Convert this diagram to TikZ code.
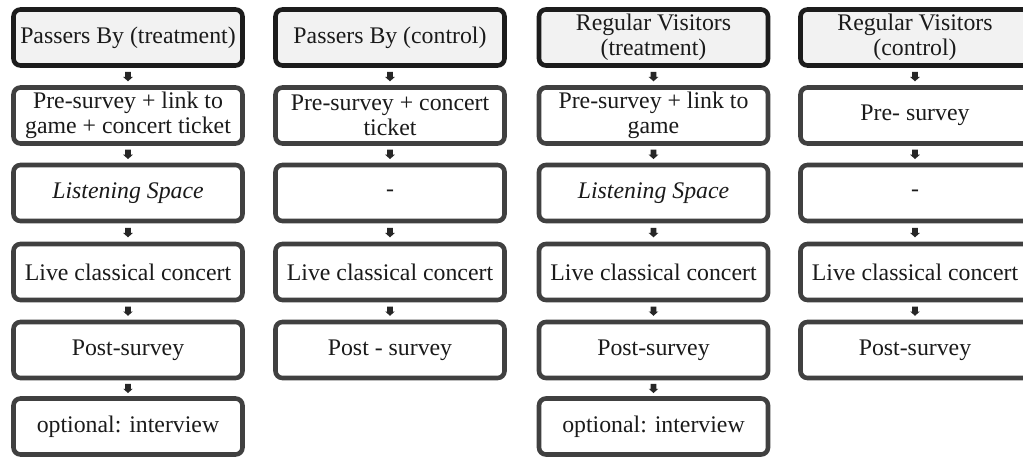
\documentclass[tikz,border=0pt]{standalone}
\usepackage{fontspec}
\setmainfont{Liberation Serif}

\definecolor{boxgray}{HTML}{404040}
\definecolor{headline}{HTML}{1C1C1C}
\definecolor{headfill}{HTML}{F2F2F2}
\definecolor{inkcol}{HTML}{1A1A1A}
\definecolor{arrowcol}{HTML}{262626}

\tikzset{
  stage/.style={draw=boxgray, line width=4.6pt, rounded corners=7pt, fill=white,
    minimum width=229pt, minimum height=56pt, align=center, inner sep=0pt,
    text=inkcol, font=\fontsize{23.8}{25}\selectfont},
  head/.style={stage, draw=headline, fill=headfill},
  blockarrow/.style={fill=arrowcol}
}

\begin{document}
\begin{tikzpicture}[x=1pt, y=-1pt]
  \useasboundingbox (0,0) rectangle (1023,457);

  % passers by, treatment group
  \node[head]  (a0) at (128,37.5)  {Passers By (treatment)};
  \node[stage] (a1) at (128,115.5) {Pre-survey + link to\\game + concert ticket};
  \node[stage] (a2) at (128,193)   {\itshape Listening Space};
  \node[stage] (a3) at (128,272)   {Live classical concert};
  \node[stage] (a4) at (128,350)   {Post-survey};
  \node[stage] (a5) at (128,426.5) {optional: interview};

  % passers by, control group
  \node[head]  (b0) at (390,37.5)  {Passers By (control)};
  \node[stage] (b1) at (390,115.5) {Pre-survey + concert\\ticket};
  \node[stage] (b2) at (390,193)   {-};
  \node[stage] (b3) at (390,272)   {Live classical concert};
  \node[stage] (b4) at (390,350)   {Post - survey};

  % regular visitors, treatment group
  \node[head]  (c0) at (653.5,37.5)  {Regular Visitors\\(treatment)};
  \node[stage] (c1) at (653.5,115.5) {Pre-survey + link to\\game};
  \node[stage] (c2) at (653.5,193)   {\itshape Listening Space};
  \node[stage] (c3) at (653.5,272)   {Live classical concert};
  \node[stage] (c4) at (653.5,350)   {Post-survey};
  \node[stage] (c5) at (653.5,426.5) {optional: interview};

  % regular visitors, control group
  \node[head]  (d0) at (915,37.5)  {Regular Visitors\\(control)};
  \node[stage] (d1) at (915,115.5) {Pre- survey};
  \node[stage] (d2) at (915,193)   {-};
  \node[stage] (d3) at (915,272)   {Live classical concert};
  \node[stage] (d4) at (915,350)   {Post-survey};

  % small block arrows, centred in the gap between consecutive steps
  \foreach \p/\q in {a0/a1,a1/a2,a2/a3,a3/a4,a4/a5,
                     b0/b1,b1/b2,b2/b3,b3/b4,
                     c0/c1,c1/c2,c2/c3,c3/c4,c4/c5,
                     d0/d1,d1/d2,d2/d3,d3/d4}
  {
    \path (\p.south) -- (\q.north) coordinate[pos=0.5] (m);
    \fill[blockarrow] (m) ++(-2.8,-4.5) -- ++(5.6,0) -- ++(0,5)
      -- ++(2,0) -- ++(-4.8,4.3) -- ++(-4.8,-4.3) -- ++(2,0) -- cycle;
  }
\end{tikzpicture}
\end{document}
